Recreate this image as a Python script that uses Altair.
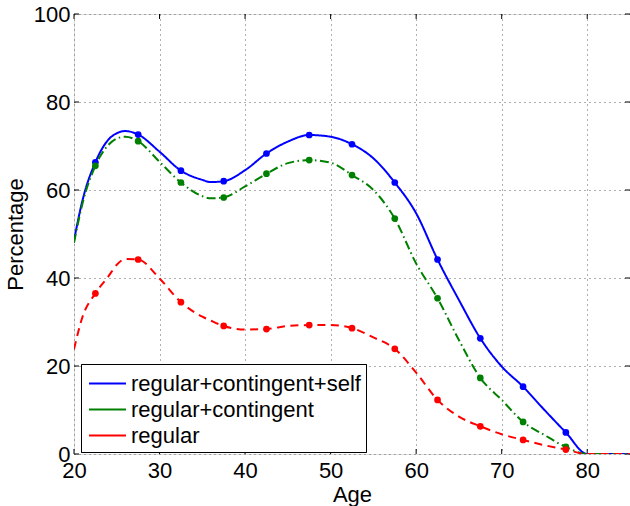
import altair as alt
import pandas as pd

series_names = ["regular+contingent+self", "regular+contingent", "regular"]
series_colors = ["#0000ff", "#008000", "#ff0000"]

curve_ages = [20, 21, 22.5, 24, 25, 26, 27.5, 30, 32.5, 35, 36, 37.5, 40, 42.5, 45,
              47.5, 50, 52.5, 55, 57.5, 60, 62.5, 65, 67.5, 70, 72.5, 75, 77.5, 80, 85]
blue_curve = [48.5, 57.7, 66.3, 71.4, 72.9, 73.4, 72.6, 68.7, 64.4, 62.3, 61.8, 62.0, 64.5, 68.3, 71.0,
              72.5, 72.1, 70.4, 67.2, 61.7, 54.7, 44.2, 35.0, 26.3, 19.9, 15.3, 10.0, 4.9, 0, 0]
green_curve = [48.0, 57.0, 65.5, 70.2, 71.7, 72.1, 71.1, 66.4, 61.7, 58.6, 58.1, 58.3, 60.8, 63.7, 66.1,
               66.8, 66.2, 63.4, 60.0, 53.5, 43.3, 35.4, 25.9, 17.3, 12.3, 7.3, 4.3, 1.6, 0, 0]
red_curve = [23.8, 31.2, 36.5, 40.3, 43.0, 44.3, 44.2, 39.9, 34.5, 31.2, 30.3, 29.1, 28.3, 28.4, 29.1,
             29.3, 29.3, 28.6, 26.5, 23.9, 18.5, 12.3, 8.5, 6.3, 4.5, 3.2, 2.0, 1.0, 0, 0]

dot_ages = [22.5, 27.5, 32.5, 37.5, 42.5, 47.5, 52.5, 57.5, 62.5, 67.5, 72.5, 77.5]
blue_dots = [66.3, 72.6, 64.4, 62.0, 68.3, 72.5, 70.4, 61.7, 44.2, 26.3, 15.3, 4.9]
green_dots = [65.5, 71.1, 61.7, 58.3, 63.7, 66.8, 63.4, 53.5, 35.4, 17.3, 7.3, 1.6]
red_dots = [36.5, 44.2, 34.5, 29.1, 28.4, 29.3, 28.6, 23.9, 12.3, 6.3, 3.2, 1.0]

x_ticks = [20, 30, 40, 50, 60, 70, 80]
y_ticks = [0, 20, 40, 60, 80, 100]

W, H = 556, 440
FONT = "Liberation Sans"
FS = 22

curves = pd.DataFrame({
    "Age": curve_ages * 3,
    "Percentage": blue_curve + green_curve + red_curve,
    "series": [series_names[0]] * len(curve_ages) + [series_names[1]] * len(curve_ages)
              + [series_names[2]] * len(curve_ages),
})
dots = pd.DataFrame({
    "Age": dot_ages * 3,
    "Percentage": blue_dots + green_dots + red_dots,
    "series": [series_names[0]] * len(dot_ages) + [series_names[1]] * len(dot_ages)
              + [series_names[2]] * len(dot_ages),
})
xt = pd.DataFrame({"Age": x_ticks})
yt = pd.DataFrame({"Percentage": y_ticks})

xscale = alt.Scale(domain=[20, 85], nice=False, zero=False)
yscale = alt.Scale(domain=[0, 100], nice=False)

xaxis = alt.Axis(values=x_ticks, title="Age", grid=True, gridDash=[1, 4], gridColor="#606060",
                 gridOpacity=1, tickSize=0, domain=False, labelPadding=6, labelFont=FONT,
                 labelFontSize=FS, labelColor="black", titleFont=FONT, titleFontSize=FS,
                 titleFontWeight="normal", titleColor="black", titleY=47,
                 titleBaseline="alphabetic", labelFlush=False)
yaxis = alt.Axis(values=y_ticks, title="Percentage", grid=True, gridDash=[1, 4], gridColor="#606060",
                 gridOpacity=1, tickSize=0, domain=False, labelPadding=4, labelFont=FONT,
                 labelFontSize=FS, labelColor="black", titleFont=FONT, titleFontSize=FS,
                 titleFontWeight="normal", titleColor="black", titleX=-59, titleY=220,
                 titleAngle=-90, titleAlign="center", titleBaseline="middle", labelFlush=False)

legend_cfg = dict(title=None, orient="none", legendX=7, legendY=350,
                  symbolType="M-1.37,0H1.37", symbolSize=729, symbolStrokeWidth=2,
                  symbolOffset=7, labelFont=FONT, labelFontSize=FS, labelColor="black",
                  labelOffset=9, padding=5, rowPadding=0,
                  strokeColor="black", fillColor="white", labelLimit=400)

lines = alt.Chart(curves).mark_line(interpolate="monotone", strokeWidth=2, clip=True).encode(
    x=alt.X("Age:Q", scale=xscale, axis=xaxis),
    y=alt.Y("Percentage:Q", scale=yscale, axis=yaxis),
    color=alt.Color("series:N", scale=alt.Scale(domain=series_names, range=series_colors),
                    legend=alt.Legend(**legend_cfg)),
    strokeDash=alt.StrokeDash("series:N",
                              scale=alt.Scale(domain=series_names,
                                              range=[[1, 0], [9, 3.5, 1.5, 3.5], [8, 5.5]]),
                              legend=alt.Legend(**legend_cfg)),
    order=alt.Order("Age:Q"),
)

points = alt.Chart(dots).mark_circle(size=45, opacity=1).encode(
    x=alt.X("Age:Q", scale=xscale),
    y=alt.Y("Percentage:Q", scale=yscale),
    color=alt.Color("series:N", scale=alt.Scale(domain=series_names, range=series_colors), legend=None),
)

tick_bottom = alt.Chart(xt).mark_rule(color="black", strokeWidth=1).encode(
    x=alt.X("Age:Q", scale=xscale), y=alt.value(H), y2=alt.value(H - 5))
tick_top = alt.Chart(xt).mark_rule(color="black", strokeWidth=1).encode(
    x=alt.X("Age:Q", scale=xscale), y=alt.value(0), y2=alt.value(5))
tick_left = alt.Chart(yt).mark_rule(color="black", strokeWidth=1).encode(
    y=alt.Y("Percentage:Q", scale=yscale), x=alt.value(0), x2=alt.value(5))
tick_right = alt.Chart(yt).mark_rule(color="black", strokeWidth=1).encode(
    y=alt.Y("Percentage:Q", scale=yscale), x=alt.value(W), x2=alt.value(W - 5))

chart = alt.layer(tick_bottom, tick_top, tick_left, tick_right, lines, points).resolve_scale(
    color="independent"
).properties(
    width=W, height=H,
    autosize=alt.AutoSizeParams(type="none"),
    padding={"left": 74, "top": 14, "right": 0, "bottom": 52},
).configure_view(stroke="black", strokeWidth=1.2).configure(background="white")

chart.save("out.html", embed_options={"renderer": "svg", "actions": False})
